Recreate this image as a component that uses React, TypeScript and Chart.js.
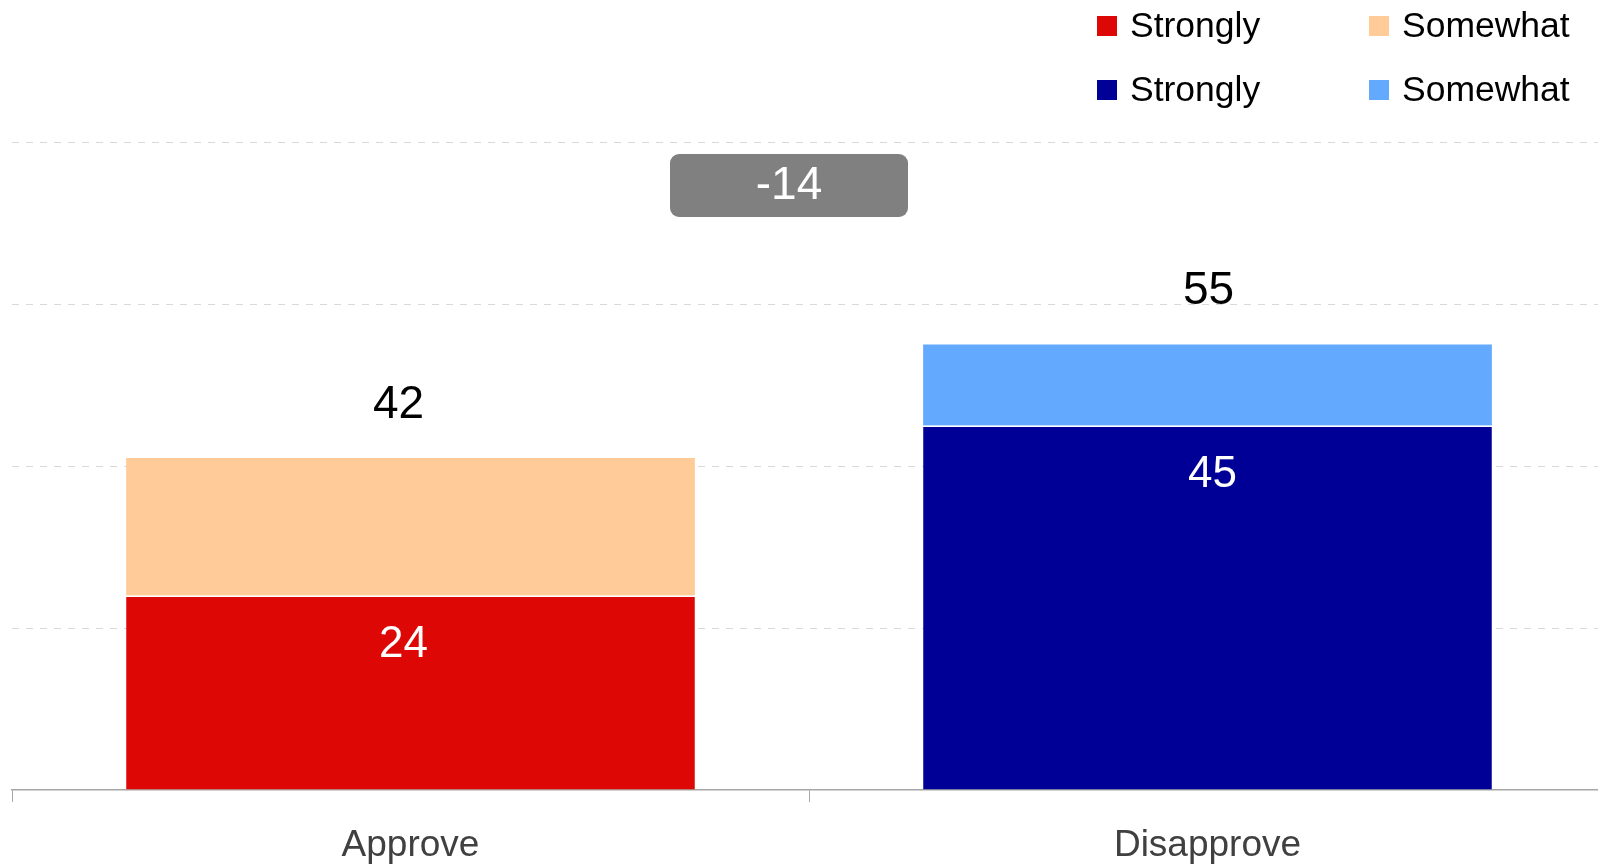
import React, { useEffect, useRef } from "react";
import { Chart, registerables } from "chart.js";

Chart.register(...registerables);

const categories = ["Approve", "Disapprove"];
const legendLabels = ["Strongly", "Somewhat", "Strongly", "Somewhat"];
const approveStrongly = [24, null];
const approveSomewhat = [17, null];
const disapproveStrongly = [null, 45];
const disapproveSomewhat = [null, 10];
const totals = [42, 55];
const netDifference = -14;
const netPosition = 75;
const yTicks = [0, 20, 40, 60, 80];
const seriesColors = ["#DD0806", "#FFCC99", "#000096", "#63A9FD"];

const FONT = "'Liberation Sans', Arial, Helvetica, sans-serif";

const overlayPlugin = {
  id: "overlay",
  afterDatasetsDraw(chart: any) {
    const ctx = chart.ctx;
    const xs = chart.scales.x;
    const ys = chart.scales.y;
    ctx.save();
    ctx.textAlign = "center";
    ctx.textBaseline = "middle";

    // inside labels (strongly segments)
    const insidePairs = [
      [0, 0, -7],
      [2, 1, 5],
    ];
    insidePairs.forEach(([ds, idx, dx]) => {
      const el = chart.getDatasetMeta(ds).data[idx];
      const v = chart.data.datasets[ds].data[idx];
      if (!el || v == null) return;
      ctx.fillStyle = "#ffffff";
      ctx.font = `44px ${FONT}`;
      ctx.fillText(String(v), el.x + dx, el.y + 49);
    });

    // totals above stacks
    const topPairs = [
      [1, 0, -12],
      [3, 1, 1],
    ];
    topPairs.forEach(([ds, idx, dx], i) => {
      const el = chart.getDatasetMeta(ds).data[idx];
      if (!el) return;
      ctx.fillStyle = "#000000";
      ctx.font = `46px ${FONT}`;
      ctx.fillText(String(totals[i]), el.x + dx, el.y - 53);
    });

    // net difference box
    const cx = (xs.getPixelForValue(0) + xs.getPixelForValue(1)) / 2 - 20;
    const cy = ys.getPixelForValue(netPosition) + 3;
    const w = 238;
    const h = 63;
    ctx.fillStyle = "#808080";
    ctx.beginPath();
    (ctx as any).roundRect(cx - w / 2, cy - h / 2, w, h, 9);
    ctx.fill();
    ctx.fillStyle = "#ffffff";
    ctx.font = `46px ${FONT}`;
    ctx.fillText(String(netDifference), cx, cy + 1);

    // legend
    const legendPos = [
      [1097, 26],
      [1369, 26],
      [1097, 90],
      [1369, 90],
    ];
    ctx.textAlign = "left";
    ctx.font = `35.5px ${FONT}`;
    legendLabels.forEach((lab, i) => {
      const [lx, ly] = legendPos[i];
      ctx.fillStyle = seriesColors[i];
      ctx.fillRect(lx, ly - 10, 20, 20);
      ctx.fillStyle = "#000000";
      ctx.fillText(lab, lx + 33, ly + 1);
    });
    ctx.restore();
  },
};

export default function App() {
  const canvasRef = useRef<HTMLCanvasElement | null>(null);

  useEffect(() => {
    document.body.style.overflow = "hidden";
    const canvas = canvasRef.current;
    if (!canvas) return;
    const chart = new Chart(canvas, {
      type: "bar",
      data: {
        labels: categories,
        datasets: [
          {
            label: legendLabels[0],
            data: approveStrongly,
            backgroundColor: seriesColors[0],
            borderColor: "#ffffff",
            borderWidth: { top: 1.5, left: 0, right: 0, bottom: 0 },
            borderSkipped: false,
          },
          {
            label: legendLabels[1],
            data: approveSomewhat,
            backgroundColor: seriesColors[1],
            borderWidth: 0,
          },
          {
            label: legendLabels[2],
            data: disapproveStrongly,
            backgroundColor: seriesColors[2],
            borderColor: "#ffffff",
            borderWidth: { top: 1.5, left: 0, right: 0, bottom: 0 },
            borderSkipped: false,
          },
          {
            label: legendLabels[3],
            data: disapproveSomewhat,
            backgroundColor: seriesColors[3],
            borderWidth: 0,
          },
        ] as any,
      },
      options: {
        animation: false,
        responsive: true,
        maintainAspectRatio: false,
        layout: { padding: { top: 142, left: 12, right: 0, bottom: 0 } },
        datasets: {
          bar: { categoryPercentage: 0.8, barPercentage: 0.892 },
        },
        plugins: {
          legend: { display: false },
          tooltip: { enabled: false },
        },
        scales: {
          x: {
            stacked: true,
            grid: {
              drawOnChartArea: false,
              drawTicks: true,
              tickLength: 12,
              color: "#a6a6a6",
              lineWidth: 1,
            },
            border: { color: "#a6a6a6", width: 1.5 },
            ticks: {
              color: "#404040",
              font: { family: FONT, size: 37 },
              padding: 22,
              maxRotation: 0,
            },
            afterFit: (s: any) => {
              s.height = 75;
            },
          },
          y: {
            stacked: true,
            min: 0,
            max: 80,
            afterBuildTicks: (s: any) => {
              s.ticks = yTicks.map((v) => ({ value: v }));
            },
            ticks: { display: false },
            grid: {
              drawTicks: false,
              lineWidth: 1,
              color: (c: any) =>
                c.tick && c.tick.value === 0 ? "rgba(0,0,0,0)" : "#d9d9d9",
            },
            border: { display: false, dash: [7, 7] },
            afterFit: (s: any) => {
              s.width = 0;
            },
          },
        },
      } as any,
      plugins: [overlayPlugin],
    });
    return () => chart.destroy();
  }, []);

  return (
    <div
      style={{
        position: "fixed",
        left: 0,
        top: 0,
        width: 1606,
        height: 865,
        background: "#ffffff",
      }}
    >
      <canvas ref={canvasRef} />
    </div>
  );
}
